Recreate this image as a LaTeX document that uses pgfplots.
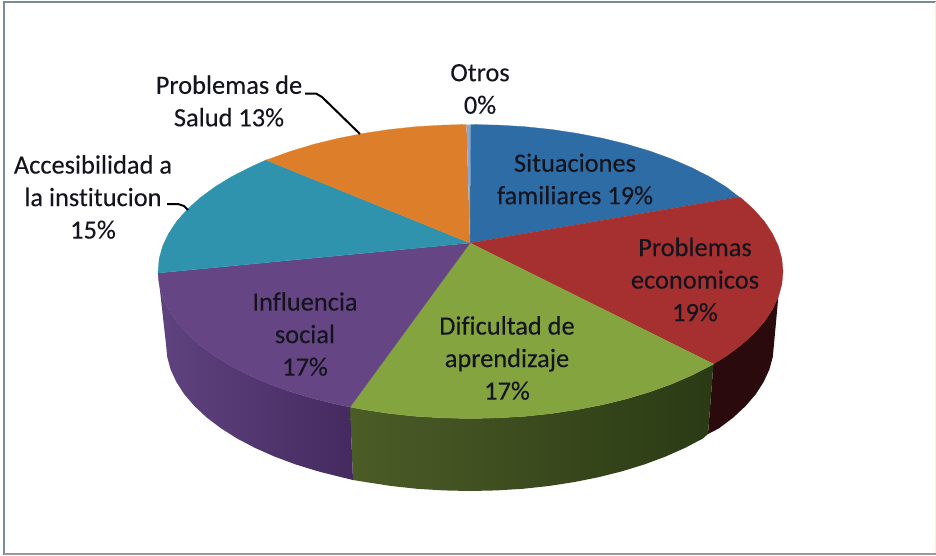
\documentclass[border=0pt]{standalone}
\usepackage{fontspec}
\setmainfont[Ligatures=NoCommon,FakeBold=0.15]{Carlito}
\usepackage{pgfplots}
\pgfplotsset{compat=1.18}
\definecolor{cblue}{HTML}{2E6CA5}
\definecolor{cred}{HTML}{A5302F}
\definecolor{cgreen}{HTML}{83A43F}
\definecolor{cpurple}{HTML}{654583}
\definecolor{cteal}{HTML}{2F93AE}
\definecolor{corange}{HTML}{DD7F2A}
\definecolor{cotros}{HTML}{8CA6CF}
\definecolor{ctext}{HTML}{14141E}
\definecolor{cframe}{HTML}{7C8C96}
\definecolor{sredA}{HTML}{2A0A0C}
\definecolor{sgreenA}{HTML}{4C5C27}
\definecolor{sgreenB}{HTML}{2A3A14}
\definecolor{spurpA}{HTML}{5F437F}
\definecolor{spurpB}{HTML}{452A60}
\tikzset{lab/.style={font=\fontsize{26.4}{32.5}\selectfont, text=ctext, align=center, inner sep=0pt}}
\begin{document}
\begin{tikzpicture}
\begin{axis}[
  width=936pt, height=555pt, scale only axis,
  xmin=0, xmax=936, ymin=0, ymax=555, y dir=reverse,
  hide axis, clip=true,
  every axis plot/.append style={mark=none, forget plot},
]
% page
\addplot[fill=white, draw=none] coordinates {(0,0)(936,0)(936,555)(0,555)};
% frame
\addplot[draw=cframe, line width=2.5pt] coordinates {(4,555)(4,2)(936,2)};
\addplot[draw=black!40, line width=2pt] coordinates {(4,554)(936,554)};
\addplot[draw=orange!15, line width=1pt] coordinates {(935.5,2)(935.5,553)};
% side walls
\addplot[draw=none, fill=sredA] coordinates {(778.3,297)(772.3,309.5)(764.2,321.8)(753.7,333.6)(741.1,345)(726.5,355.8)(713.4,364)(708,434)(719,428.3)(733.3,417.5)(745.5,406.1)(755.7,394.3)(763.6,382)(769.4,369.5)(772.8,356.8)(774,344)};
\addplot[draw=none, left color=sgreenA, right color=sgreenB] coordinates {(713.4,364)(709.9,366)(691.5,375.4)(671.4,384.1)(649.8,391.9)(626.8,398.8)(602.6,404.7)(577.4,409.6)(551.4,413.5)(524.8,416.3)(497.8,417.9)(470.5,418.5)(443.2,417.9)(416.2,416.3)(389.6,413.5)(363.6,409.6)(350,407)(353,480)(366,482.1)(391.3,486)(417.2,488.8)(443.5,490.4)(470,491)(496.5,490.4)(522.8,488.8)(548.7,486)(574,482.1)(598.5,477.2)(622,471.3)(644.4,464.4)(665.4,456.6)(685,447.9)(702.9,438.5)(708,434)};
\addplot[draw=none, left color=spurpA, right color=spurpB] coordinates {(350,407)(338.4,404.7)(314.2,398.8)(291.2,391.9)(269.6,384.1)(249.5,375.4)(231.1,366)(214.5,355.8)(199.9,345)(187.3,333.6)(176.8,321.8)(168.7,309.5)(162.7,297)(159.2,284.3)(158,273)(166,344)(167.2,356.8)(170.6,369.5)(176.4,382)(184.3,394.3)(194.5,406.1)(206.7,417.5)(221,428.3)(237.1,438.5)(255,447.9)(274.6,456.6)(295.6,464.4)(318,471.3)(341.5,477.2)(353,480)};
% top slices
\addplot[draw=cblue, fill=cblue, line width=0.3pt] coordinates {(470,243)(470.5,124.5)(497.8,125.1)(524.8,126.7)(551.4,129.5)(577.4,133.4)(602.6,138.3)(626.8,144.2)(649.8,151.1)(671.4,158.9)(691.5,167.6)(709.9,177)(726.5,187.2)(739,197)};
\addplot[draw=cred, fill=cred, line width=0.3pt] coordinates {(470,243)(739,197)(741.1,198)(753.7,209.4)(764.2,221.2)(772.3,233.5)(778.3,246)(781.8,258.7)(783,271.5)(781.8,284.3)(778.3,297)(772.3,309.5)(764.2,321.8)(753.7,333.6)(741.1,345)(726.5,355.8)(713.4,364)};
\addplot[draw=cgreen, fill=cgreen, line width=0.3pt] coordinates {(470,243)(713.4,364)(709.9,366)(691.5,375.4)(671.4,384.1)(649.8,391.9)(626.8,398.8)(602.6,404.7)(577.4,409.6)(551.4,413.5)(524.8,416.3)(497.8,417.9)(470.5,418.5)(443.2,417.9)(416.2,416.3)(389.6,413.5)(363.6,409.6)(350,407)};
\addplot[draw=cpurple, fill=cpurple, line width=0.3pt] coordinates {(470,243)(350,407)(338.4,404.7)(314.2,398.8)(291.2,391.9)(269.6,384.1)(249.5,375.4)(231.1,366)(214.5,355.8)(199.9,345)(187.3,333.6)(176.8,321.8)(168.7,309.5)(162.7,297)(159.2,284.3)(158,273)};
\addplot[draw=cteal, fill=cteal, line width=0.3pt] coordinates {(470,243)(158,273)(159.2,258.7)(162.7,246)(168.7,233.5)(176.8,221.2)(187.3,209.4)(199.9,198)(214.5,187.2)(231.1,177)(249.5,167.6)(266,160)};
\addplot[draw=corange, fill=corange, line width=0.3pt] coordinates {(470,243)(266,160)(269.6,158.9)(291.2,151.1)(314.2,144.2)(338.4,138.3)(363.6,133.4)(389.6,129.5)(416.2,126.7)(443.2,125.1)(466.5,124.5)};
\addplot[draw=none, fill=cotros] coordinates {(470,243)(466.5,124.5)(470.5,124.5)};
% leader lines
\addplot[draw=black, line width=2pt] coordinates {(305,93.5)(316,93.5)(322,97)(360,134)};
\addplot[draw=black, line width=2pt] coordinates {(167,204)(178,204)(184,206)(188,210)};
% labels
\node[lab] at (axis cs:229,101) {Problemas de\\Salud 13\%};
\node[lab] at (axis cs:93,197) {Accesibilidad a\\la institucion\\15\%};
\node[lab] at (axis cs:480,89) {Otros\\0\%};
\node[lab] at (axis cs:575,179) {Situaciones\\familiares 19\%};
\node[lab] at (axis cs:695,279.5) {Problemas\\economicos\\19\%};
\node[lab] at (axis cs:507,358) {Dificultad de\\aprendizaje\\17\%};
\node[lab] at (axis cs:305,334) {Influencia\\social\\17\%};
\end{axis}
\end{tikzpicture}
\end{document}
